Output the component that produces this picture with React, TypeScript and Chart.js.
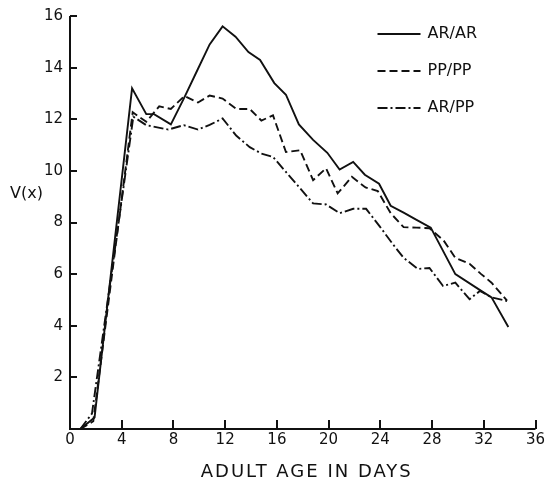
import React, { useEffect, useRef } from 'react';
import { Chart, registerables } from 'chart.js';

Chart.register(...registerables);

const xTickValues = [0, 4, 8, 12, 16, 20, 24, 28, 32, 36];
const yTickValues = [2, 4, 6, 8, 10, 12, 14, 16];
const xTitle = 'ADULT AGE IN DAYS';
const yTitle = 'V(x)';
const seriesLabels = ['AR/AR', 'PP/PP', 'AR/PP'];

const arArDays = [0.8, 1.9, 4.8, 5.9, 6.5, 7.8, 8.8, 9.8, 10.8, 11.8, 12.8, 13.8, 14.7, 15.8, 16.7, 17.7, 18.8, 19.9, 20.85, 21.9, 22.8, 23.9, 24.8, 25.8, 26.8, 27.9, 29.8, 31.8, 32.6, 33.9];
const arArValues = [0, 0.45, 13.2, 12.2, 12.2, 11.8, 12.8, 13.85, 14.9, 15.6, 15.2, 14.6, 14.3, 13.4, 12.95, 11.8, 11.2, 10.7, 10.05, 10.35, 9.85, 9.5, 8.65, 8.38, 8.1, 7.8, 6.0, 5.35, 5.1, 3.95];

const ppPpDays = [0.8, 1.8, 4.85, 5.9, 6.9, 7.8, 8.85, 9.9, 10.8, 11.8, 12.85, 13.9, 14.8, 15.7, 16.7, 17.8, 18.8, 19.8, 20.7, 21.8, 22.85, 23.8, 24.8, 25.8, 26.8, 27.8, 28.9, 29.8, 30.9, 31.8, 32.6, 33.8];
const ppPpValues = [0, 0.3, 12.27, 11.9, 12.5, 12.4, 12.9, 12.65, 12.92, 12.8, 12.4, 12.4, 11.95, 12.15, 10.73, 10.8, 9.64, 10.1, 9.13, 9.77, 9.36, 9.22, 8.36, 7.82, 7.8, 7.78, 7.3, 6.63, 6.4, 6.0, 5.67, 4.97];

const arPpDays = [0.8, 1.7, 4.9, 5.9, 7.6, 8.8, 9.9, 10.8, 11.8, 12.85, 13.9, 14.8, 15.7, 16.7, 17.7, 18.8, 19.8, 20.85, 21.9, 22.9, 23.95, 25.0, 25.8, 26.9, 27.8, 28.85, 29.8, 30.9, 31.7, 32.6, 33.8];
const arPpValues = [0, 0.6, 12.1, 11.77, 11.6, 11.77, 11.6, 11.78, 12.03, 11.37, 10.92, 10.67, 10.54, 9.96, 9.38, 8.74, 8.7, 8.36, 8.53, 8.53, 7.85, 7.14, 6.63, 6.2, 6.24, 5.54, 5.67, 5.03, 5.35, 5.1, 4.96];

const INK = '#111111';
const FONT = '"DejaVu Sans", sans-serif';
const dashes: number[][] = [[], [8, 4], [10, 3, 2, 3]];

function toPoints(days: number[], values: number[]) {
  return days.map((d, i) => ({ x: d, y: values[i] }));
}

const decorPlugin = {
  id: 'decor',
  afterDraw(chart: any) {
    const { ctx, chartArea } = chart;
    const xs = chart.scales.x;
    const ys = chart.scales.y;
    ctx.save();
    ctx.strokeStyle = INK;
    ctx.lineWidth = 2;
    ctx.setLineDash([]);
    const left = chartArea.left;
    const bottom = chartArea.bottom;
    ctx.beginPath();
    ctx.moveTo(left, ys.getPixelForValue(16));
    ctx.lineTo(left, bottom);
    ctx.lineTo(xs.getPixelForValue(36), bottom);
    for (const v of yTickValues) {
      const py = Math.round(ys.getPixelForValue(v));
      ctx.moveTo(left, py);
      ctx.lineTo(left + 7, py);
    }
    for (const v of xTickValues) {
      if (v === 0) continue;
      const px = Math.round(xs.getPixelForValue(v));
      ctx.moveTo(px, bottom);
      ctx.lineTo(px, bottom - 9);
    }
    ctx.stroke();

    // legend
    ctx.fillStyle = INK;
    ctx.font = `16px ${FONT}`;
    ctx.textBaseline = 'middle';
    ctx.textAlign = 'left';
    chart.data.datasets.forEach((ds: any, i: number) => {
      const cy = chartArea.top + 18 + i * 37;
      ctx.beginPath();
      ctx.lineWidth = 1.9;
      ctx.setLineDash(ds.borderDash || []);
      ctx.moveTo(chartArea.right - 158, cy);
      ctx.lineTo(chartArea.right - 115, cy);
      ctx.stroke();
      ctx.setLineDash([]);
      ctx.fillText(ds.label, chartArea.right - 108, cy);
    });

    // y title
    ctx.font = `16px ${FONT}`;
    ctx.textAlign = 'left';
    ctx.textBaseline = 'middle';
    ctx.fillText(yTitle, 10, ys.getPixelForValue(9.1));

    // x title
    ctx.font = `18px ${FONT}`;
    ctx.textAlign = 'center';
    ctx.textBaseline = 'middle';
    try { (ctx as any).letterSpacing = '2px'; } catch (e) {}
    ctx.fillText(xTitle, (chartArea.left + chartArea.right) / 2 + 4, 472);
    try { (ctx as any).letterSpacing = '0px'; } catch (e) {}
    ctx.restore();
  },
};

export default function App() {
  const ref = useRef<HTMLCanvasElement | null>(null);
  useEffect(() => {
    if (!ref.current) return;
    const series = [
      toPoints(arArDays, arArValues),
      toPoints(ppPpDays, ppPpValues),
      toPoints(arPpDays, arPpValues),
    ];
    const chart = new Chart(ref.current, {
      type: 'line',
      data: {
        datasets: series.map((pts, i) => ({
          label: seriesLabels[i],
          data: pts,
          borderColor: INK,
          borderWidth: 1.9,
          borderDash: dashes[i],
          pointRadius: 0,
          tension: 0,
          fill: false,
        })),
      },
      options: {
        responsive: false,
        animation: false,
        layout: { padding: { left: 8, top: 13, right: 12.5, bottom: 0 } },
        plugins: { legend: { display: false }, tooltip: { enabled: false }, title: { display: false } },
        scales: {
          x: {
            type: 'linear',
            min: 0,
            max: 36,
            afterBuildTicks: (scale: any) => { scale.ticks = xTickValues.map((v) => ({ value: v })); },
            afterFit: (scale: any) => { scale.height = 54; },
            grid: { display: false, drawTicks: false },
            border: { display: false },
            ticks: { color: INK, font: { family: FONT, size: 15 }, padding: 2, maxRotation: 0, autoSkip: false },
          },
          y: {
            type: 'linear',
            min: 0,
            max: 16,
            afterBuildTicks: (scale: any) => { scale.ticks = yTickValues.map((v) => ({ value: v })); },
            afterFit: (scale: any) => { scale.width = 62; },
            grid: { display: false, drawTicks: false },
            border: { display: false },
            ticks: { color: INK, font: { family: FONT, size: 15 }, padding: 7, autoSkip: false },
          },
        },
      },
      plugins: [decorPlugin],
    } as any);
    return () => chart.destroy();
  }, []);
  return (
    <div style={{ position: 'absolute', left: 0, top: 0, width: 548, height: 483, background: '#fff' }}>
      <canvas ref={ref} width={548} height={483} style={{ display: 'block' }} />
    </div>
  );
}
